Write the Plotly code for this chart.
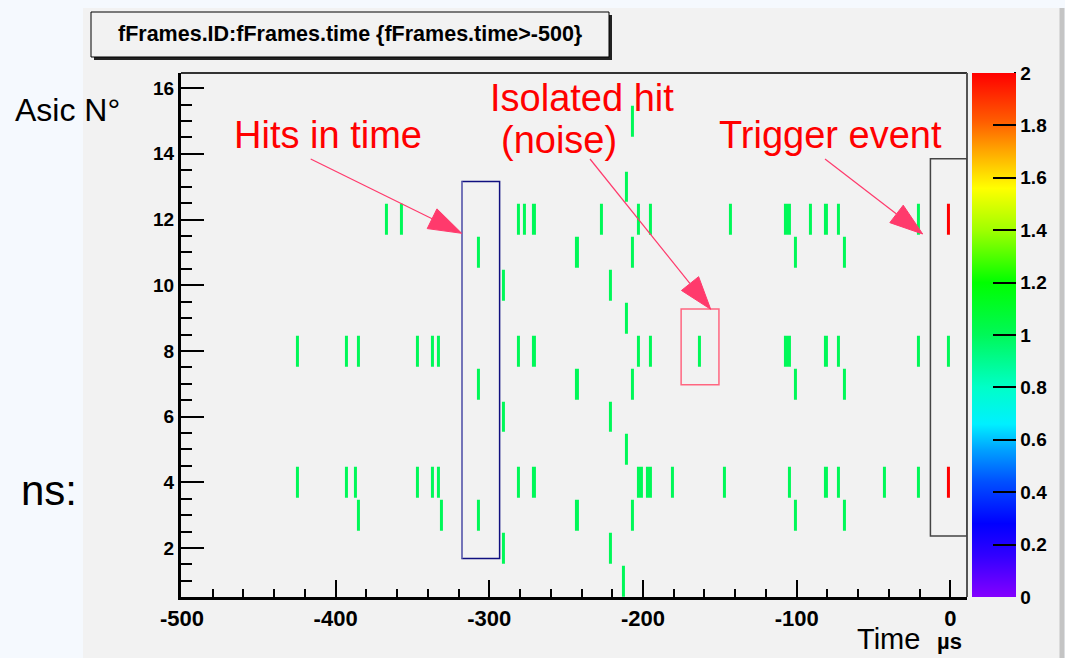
import numpy as np
import plotly.graph_objects as go

# hit times (us) read per ASIC; a repeated value means two hits in the same bin
t_asic15 = [-208]
t_asic13 = [-212]
t_asic12 = [-368, -358, -282, -278, -272, -228, -204, -195, -144, -107, -105,
            -92, -82, -74, -22, -1, -1]
t_asic11 = [-308, -244, -208, -102, -70]
t_asic10 = [-292, -222]
t_asic9 = [-212]
t_asic8 = [-426, -394, -386, -348, -338, -334, -282, -272, -203, -195, -164,
           -107, -105, -82, -74, -22, -1]
t_asic7 = [-308, -244, -208, -102, -70]
t_asic6 = [-292, -222]
t_asic5 = [-212]
t_asic4 = [-426, -394, -388, -348, -338, -334, -282, -272, -203, -201, -197,
           -195, -182, -148, -106, -82, -74, -44, -22, -1, -1]
t_asic3 = [-386, -332, -308, -244, -208, -102, -70]
t_asic2 = [-292, -222]
t_asic1 = [-214]

asic_ids = [15, 13, 12, 11, 10, 9, 8, 7, 6, 5, 4, 3, 2, 1]
asic_times = [t_asic15, t_asic13, t_asic12, t_asic11, t_asic10, t_asic9, t_asic8,
              t_asic7, t_asic6, t_asic5, t_asic4, t_asic3, t_asic2, t_asic1]

x_ticks = [-500, -400, -300, -200, -100, 0]
x_labels = ["-500", "-400", "-300", "-200", "-100", "0"]
y_ticks = [2, 4, 6, 8, 10, 12, 14, 16]
colorbar_ticks = [0, 0.2, 0.4, 0.6, 0.8, 1, 1.2, 1.4, 1.6, 1.8, 2]
colorbar_labels = ["0", "0.2", "0.4", "0.6", "0.8", "1", "1.2", "1.4", "1.6", "1.8", "2"]

# build the 2D histogram (2 us x 1 ASIC bins)
hit_t = [t for ts in asic_times for t in ts]
hit_a = [a for a, ts in zip(asic_ids, asic_times) for _ in ts]
x_edges = np.arange(-500, 12, 2)
y_edges = np.arange(0.5, 17, 1)
counts, _, _ = np.histogram2d(hit_t, hit_a, bins=[x_edges, y_edges])
z = [[v if v > 0 else None for v in row] for row in counts.T.tolist()]
x_centers = (x_edges[:-1] + x_edges[1:]) / 2
y_centers = (y_edges[:-1] + y_edges[1:]) / 2

W, H = 1065, 658
L, R, T, B = 181, 967, 73, 597


def fx(px):
    return (px - L) / (R - L)


def fy(py):
    return (B - py) / (B - T)


SANS = "Liberation Sans, Arial, sans-serif"
ARROW = "#ff3a6c"

root_palette = [
    [0.00, "#8400ff"], [0.08, "#3000ff"], [0.14, "#0000ff"], [0.22, "#0050ff"],
    [0.28, "#00a0ff"], [0.33, "#00f0ff"], [0.40, "#00ffc8"], [0.50, "#00f858"],
    [0.60, "#00ff00"], [0.70, "#a0ff00"], [0.78, "#ffff00"], [0.85, "#ffa800"],
    [0.91, "#ff5a00"], [1.00, "#ff0000"],
]

fig = go.Figure()
fig.add_heatmap(
    x=x_centers,
    y=y_centers,
    z=z,
    zmin=0,
    zmax=2,
    ygap=2,
    colorscale=root_palette,
    hoverongaps=False,
    colorbar=dict(
        x=fx(971.5), xanchor="left", xpad=0,
        y=0.5, yanchor="middle", len=1, lenmode="fraction", ypad=0,
        thickness=44, outlinewidth=0,
        ticks="inside", ticklen=23, tickwidth=2, tickcolor="black",
        tickvals=colorbar_ticks, ticktext=colorbar_labels,
        tickfont=dict(family=SANS, size=19, color="black", weight="bold"),
    ),
)

fig.update_layout(
    width=W,
    height=H,
    margin=dict(l=L, r=W - R, t=T, b=H - B, autoexpand=False),
    paper_bgcolor="#f5f9fe",
    plot_bgcolor="#f2f2f2",
    showlegend=False,
)
fig.update_xaxes(
    range=[-500.6, 10.8],
    tickvals=x_ticks, ticktext=x_labels,
    ticks="inside", ticklen=17, tickwidth=2, tickcolor="black",
    minor=dict(dtick=20, tick0=0, ticks="inside", ticklen=8, tickwidth=2, tickcolor="black"),
    showline=True, linewidth=3, linecolor="black",
    showgrid=False, zeroline=False,
    tickfont=dict(family=SANS, size=22, color="black", weight="bold"),
)
fig.update_yaxes(
    range=[0.51, 16.46],
    tickvals=y_ticks,
    ticks="inside", ticklen=23, tickwidth=2, tickcolor="black",
    minor=dict(dtick=0.5, tick0=0, ticks="inside", ticklen=11, tickwidth=2, tickcolor="black"),
    showline=True, linewidth=3, linecolor="black",
    showgrid=False, zeroline=False,
    tickfont=dict(family=SANS, size=19, color="black", weight="bold"),
)

shapes = [
    # canvas
    dict(type="rect", xref="paper", yref="paper", x0=fx(83), x1=fx(1060),
         y0=fy(700), y1=fy(8), fillcolor="#f2f2f2", line_width=0, layer="below"),
    dict(type="line", xref="paper", yref="paper", x0=fx(1062), x1=fx(1062),
         y0=fy(700), y1=fy(8), line=dict(color="#c4c4c4", width=5)),
    # frame top / right
    dict(type="line", xref="paper", yref="paper", x0=0, x1=1, y0=1, y1=1,
         line=dict(color="#333333", width=2)),
    dict(type="line", xref="paper", yref="paper", x0=1, x1=1, y0=0, y1=1,
         line=dict(color="#555555", width=2)),
    # colorbar axis line
    dict(type="line", xref="paper", yref="paper", x0=fx(1015), x1=fx(1015),
         y0=fy(597), y1=fy(72), line=dict(color="black", width=2)),
    # title box with shadow
    dict(type="rect", xref="paper", yref="paper", x0=fx(94), x1=fx(612),
         y0=fy(60), y1=fy(15), fillcolor="#222222", line_width=0),
    dict(type="rect", xref="paper", yref="paper", x0=fx(91), x1=fx(609),
         y0=fy(57), y1=fy(12), fillcolor="#f2f2f2", line=dict(color="black", width=1)),
    # highlight boxes (data coordinates)
    dict(type="rect", xref="x", yref="y", x0=-317.7, x1=-293.3, y0=1.68, y1=13.16,
         line=dict(color="#101080", width=1.5)),
    dict(type="line", xref="x", yref="y", x0=-317.7, x1=-317.7, y0=1.68, y1=13.16,
         line=dict(color="#8080c0", width=1.5)),
    dict(type="rect", xref="x", yref="y", x0=-175.2, x1=-150.6, y0=6.97, y1=9.28,
         line=dict(color="#ff6680", width=1.5)),
    dict(type="rect", xref="x", yref="y", x0=-13.0, x1=10.8, y0=2.37, y1=13.85,
         line=dict(color="#444444", width=1.5)),
]


def arrow(sx, sy, tx, ty, length=33, half=11):
    d = np.array([tx - sx, ty - sy], dtype=float)
    d /= np.hypot(*d)
    n = np.array([-d[1], d[0]])
    bx, by = np.array([tx, ty]) - length * d
    c1 = np.array([bx, by]) + half * n
    c2 = np.array([bx, by]) - half * n
    path = (f"M {fx(tx)},{fy(ty)} L {fx(c1[0])},{fy(c1[1])} "
            f"L {fx(c2[0])},{fy(c2[1])} Z")
    return [
        dict(type="line", xref="paper", yref="paper", x0=fx(sx), y0=fy(sy),
             x1=fx(bx), y1=fy(by), line=dict(color=ARROW, width=1.2)),
        dict(type="path", xref="paper", yref="paper", path=path,
             fillcolor=ARROW, line=dict(color=ARROW, width=1)),
    ]


shapes += arrow(310.7, 159, 461.7, 233.3)
shapes += arrow(590, 159, 710.7, 309.3)
shapes += arrow(825, 159, 922.7, 234)
fig.update_layout(shapes=shapes)


def label(text, px, py, size, color="black", xanchor="center", weight="normal"):
    fig.add_annotation(
        text=text, xref="paper", yref="paper", x=fx(px), y=fy(py),
        xanchor=xanchor, yanchor="middle", showarrow=False, borderpad=0,
        font=dict(family=SANS, size=size, color=color, weight=weight),
    )


label("fFrames.ID:fFrames.time {fFrames.time>-500}", 350, 34.5, 21.5, weight="bold")
label("Hits in time", 328, 135, 38, color="#ff0000")
label("Isolated hit", 582, 97.5, 38, color="#ff0000")
label("(noise)", 559, 139.5, 38, color="#ff0000")
label("Trigger event", 830, 135, 38, color="#ff0000")
label("Asic N°", 14, 110, 32, xanchor="left")
label("ns:", 20, 490, 42, xanchor="left")
label("Time", 856, 639, 29, xanchor="left")
label("µs", 936, 641, 22, xanchor="left", weight="bold")

fig.write_html(
    "out.html",
    config={"displayModeBar": False},
    post_script="document.body.style.margin = '0';",
)
